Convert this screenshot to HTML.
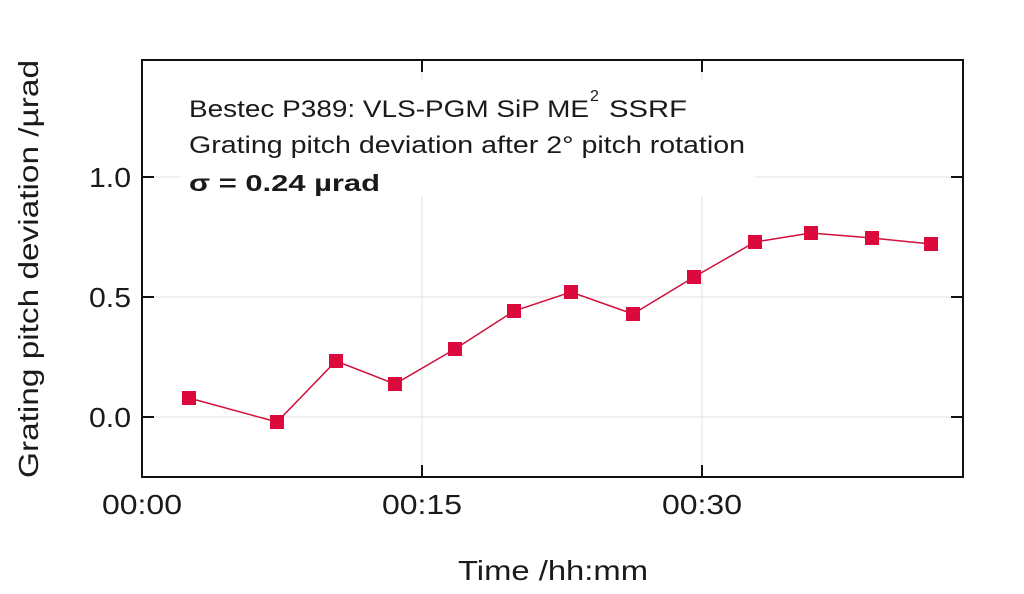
<!DOCTYPE html>
<html><head><style>
body{margin:0;background:#fff;}
svg text{font-family:"Liberation Sans",sans-serif;fill:#1a1a1a;}
</style></head><body>
<svg width="1024" height="589" xmlns="http://www.w3.org/2000/svg">
<g stroke="#e2e2e2" stroke-width="1">
<line x1="422" y1="60" x2="422" y2="477"/><line x1="702" y1="60" x2="702" y2="477"/>
<line x1="142" y1="177" x2="963" y2="177"/><line x1="142" y1="297" x2="963" y2="297"/><line x1="142" y1="417" x2="963" y2="417"/>
</g>
<rect x="180" y="80" width="575" height="116" fill="#fff"/>
<rect x="142" y="60" width="821" height="417" fill="none" stroke="#111" stroke-width="2"/>
<g stroke="#111" stroke-width="2">
<line x1="142" y1="177" x2="154" y2="177"/><line x1="142" y1="297" x2="154" y2="297"/><line x1="142" y1="417" x2="154" y2="417"/>
<line x1="963" y1="177" x2="951" y2="177"/><line x1="963" y1="297" x2="951" y2="297"/><line x1="963" y1="417" x2="951" y2="417"/>
<line x1="422" y1="477" x2="422" y2="465"/><line x1="702" y1="477" x2="702" y2="465"/>
<line x1="422" y1="60" x2="422" y2="72"/><line x1="702" y1="60" x2="702" y2="72"/>
</g>
<g font-size="28" text-anchor="end">
<text x="131" y="187" textLength="42" lengthAdjust="spacingAndGlyphs">1.0</text>
<text x="131" y="307" textLength="42" lengthAdjust="spacingAndGlyphs">0.5</text>
<text x="131" y="427" textLength="42" lengthAdjust="spacingAndGlyphs">0.0</text>
</g>
<g font-size="28">
<text x="102" y="514" textLength="80" lengthAdjust="spacingAndGlyphs">00:00</text>
<text x="382" y="514" textLength="80" lengthAdjust="spacingAndGlyphs">00:15</text>
<text x="662" y="514" textLength="80" lengthAdjust="spacingAndGlyphs">00:30</text>
<text x="458" y="580" textLength="190" lengthAdjust="spacingAndGlyphs">Time /hh:mm</text>
<text transform="translate(38,478) rotate(-90)" textLength="418" lengthAdjust="spacingAndGlyphs">Grating pitch deviation /µrad</text>
</g>
<text x="189" y="117" font-size="24" textLength="400" lengthAdjust="spacingAndGlyphs">Bestec P389: VLS-PGM SiP ME</text>
<text x="590" y="101" font-size="16">2</text>
<text x="609" y="117" font-size="24" textLength="78" lengthAdjust="spacingAndGlyphs">SSRF</text>
<text x="189" y="153" font-size="24" textLength="556" lengthAdjust="spacingAndGlyphs">Grating pitch deviation after 2° pitch rotation</text>
<text x="189" y="191" font-size="23" font-weight="bold" textLength="191" lengthAdjust="spacingAndGlyphs">σ  = 0.24 µrad</text>
<polyline fill="none" stroke="#d0103a" stroke-width="1.5" points="189,398 277,422 336,361 395,384 455,349 514,311 571,292 633,314 694,277 755,242 811,233 872,238 931,244"/>
<g fill="#dc0a3c">
<rect x="182" y="391" width="14" height="14"/><rect x="270" y="415" width="14" height="14"/><rect x="329" y="354" width="14" height="14"/><rect x="388" y="377" width="14" height="14"/><rect x="448" y="342" width="14" height="14"/><rect x="507" y="304" width="14" height="14"/><rect x="564" y="285" width="14" height="14"/><rect x="626" y="307" width="14" height="14"/><rect x="687" y="270" width="14" height="14"/><rect x="748" y="235" width="14" height="14"/><rect x="804" y="226" width="14" height="14"/><rect x="865" y="231" width="14" height="14"/><rect x="924" y="237" width="14" height="14"/>
</g>
</svg>
</body></html>
